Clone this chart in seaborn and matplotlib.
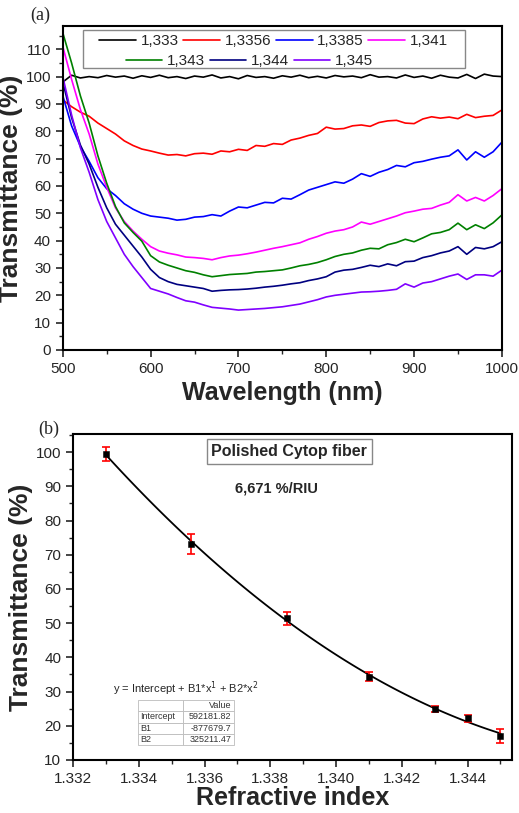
import numpy as np
import pandas as pd
import seaborn as sns
import matplotlib.pyplot as plt
from matplotlib.patches import Rectangle
from matplotlib.lines import Line2D

# ---- panel (a): transmittance spectra ----
wavelength = list(range(500, 1001, 10))

t_1333 = [98, 100.5, 99.5, 100, 99.6, 100.4, 99.8, 100.2, 99.4, 100.3, 99.7, 100.5, 99.6, 100, 99.3, 100.2,
          99.8, 100.6, 99.5, 100, 99.2, 100.4, 99.7, 100, 99.4, 100.3, 99.8, 100.5, 99.6, 100.1, 99.5, 100.4,
          99.9, 100.2, 99.6, 100.7, 99.8, 100, 99.5, 100.6, 99.7, 100.2, 99.4, 100.5, 99.8, 99.5, 100.8, 99.3,
          100.9, 100.2, 100]
t_13356 = [91.5, 89, 87, 85.5, 83, 81, 79, 76.5, 74.8, 73.5, 72.8, 72, 71.3, 71.5, 71, 71.8, 72, 71.6, 72.8,
           72.5, 73.4, 73, 74.8, 74.5, 75.5, 75.2, 76.8, 77.5, 78.5, 79.2, 81.5, 80.8, 81, 82, 82.3, 81.8, 83.2,
           83.8, 84, 83, 82.8, 84.5, 85.3, 84.8, 85.2, 84.6, 86.2, 85, 85.5, 85.8, 87.8]
t_13385 = [93, 82, 74.5, 69, 63, 59, 56.5, 53.5, 51.5, 50, 49, 48.6, 48.2, 47.5, 47.8, 48.6, 48.8, 49.5, 49,
           50.8, 52.3, 52, 53, 54, 53.8, 55.5, 55.2, 56.8, 58.5, 59.5, 60.5, 61.5, 61, 62.5, 64.5, 63.5, 65, 66,
           67.5, 67, 68.5, 69, 69.8, 70.5, 71, 73.2, 69.5, 72.5, 70.5, 72.5, 76]
t_1341 = [111, 99, 88, 79, 68, 59.5, 52, 47, 43.5, 40.5, 37.8, 36.2, 35.4, 34.8, 34, 33.8, 33.5, 33, 33.8, 34.4,
          34.7, 35.2, 35.8, 36.5, 37.2, 37.8, 38.5, 39.2, 40.5, 41.5, 42.7, 43.5, 44, 45, 46.8, 46, 47, 48, 49,
          50.2, 50.8, 51.5, 51.8, 53, 54, 56.8, 54.5, 55.8, 54.5, 56.5, 59]
t_1343 = [116, 105, 93, 83, 71, 61, 52.5, 46.5, 43, 39.8, 34.5, 32.2, 31, 30, 29, 28.4, 27.5, 26.8, 27.2, 27.6,
          27.8, 28, 28.5, 28.7, 29, 29.3, 30, 30.8, 31.3, 32, 33, 34.2, 35, 35.5, 36.5, 37.2, 37, 38.5, 39.3,
          40.5, 39.6, 41, 42.5, 43, 44, 46.4, 44, 45.8, 44.4, 46.5, 49.4]
t_1344 = [98, 85, 75, 68, 59.5, 52, 46, 42, 38, 34, 29.5, 26.5, 25, 24, 23.5, 23, 22.5, 21.5, 21.8, 22, 22.1,
          22.3, 22.6, 23, 23.3, 23.7, 24.2, 24.6, 25.4, 26, 26.8, 28.5, 29.2, 29.5, 30.2, 31, 30.5, 31.5, 30.8,
          32.3, 32.5, 33.8, 34.5, 35.5, 36.2, 37.8, 35, 37.5, 37, 37.8, 39.6]
t_1345 = [100, 86, 74, 65, 55, 47, 41, 35, 30.5, 26.5, 22.5, 21.5, 20.5, 19.2, 18, 17.5, 16.5, 15.6, 15.3, 15,
          14.6, 14.8, 15, 15.2, 15.5, 15.8, 16.3, 16.8, 17.6, 18.4, 19.4, 20, 20.4, 20.8, 21.2, 21.3, 21.5, 21.8,
          22.2, 24.2, 23, 24.5, 25, 26, 27, 27.8, 25.8, 27.5, 27.5, 27, 29.2]

labels_a = ["1,333", "1,3356", "1,3385", "1,341", "1,343", "1,344", "1,345"]
colors_a = ["#000000", "#ff0000", "#0000ff", "#ff00ff", "#008000", "#000080", "#8000ff"]

# ---- panel (b): transmittance vs refractive index ----
ri = [1.333, 1.3356, 1.3385, 1.341, 1.343, 1.344, 1.345]
trans = [99.5, 73.2, 51.4, 34.4, 25.0, 22.2, 17.05]
trans_err = [2.0, 3.0, 2.0, 1.4, 0.85, 1.0, 1.95]
fit_rows = [["", "Value"], ["Intercept", "592181.82"], ["B1", "-877679.7"], ["B2", "325211.47"]]

sns.set_style("ticks")
plt.rcParams['font.family'] = ['Liberation Sans', 'DejaVu Sans']
plt.rcParams['axes.linewidth'] = 1.5

fig = plt.figure(figsize=(5.19, 8.13), dpi=100)
ax1 = fig.add_axes([0.121, 0.5695, 0.846, 0.3985])
ax2 = fig.add_axes([0.1407, 0.0652, 0.8458, 0.401])

series = [t_1333, t_13356, t_13385, t_1341, t_1343, t_1344, t_1345]
df = pd.DataFrame({lab: s for lab, s in zip(labels_a, series)})
df["wl"] = wavelength
dfm = df.melt(id_vars="wl", var_name="RI", value_name="T")
sns.lineplot(data=dfm, x="wl", y="T", hue="RI", palette=colors_a, linewidth=1.2, legend=False, ax=ax1)

ax1.set_xlim(500, 1000)
ax1.set_ylim(0, 118.5)
ax1.set_xticks(range(500, 1001, 100))
ax1.set_xticks(range(550, 1000, 100), minor=True)
ax1.set_yticks(range(0, 111, 10))
ax1.set_yticks(range(5, 116, 10), minor=True)
ax1.set_xlabel("Wavelength (nm)", fontsize=18, fontweight="bold", labelpad=4)
ax1.set_ylabel("Transmittance (%)", fontsize=19, fontweight="bold", labelpad=2)

handles = [Line2D([], [], color=c, lw=1.2) for c in colors_a]
leg1 = ax1.legend(handles[:4], labels_a[:4], ncol=4, loc="center", bbox_to_anchor=(0.48, 0.953),
                  frameon=False, fontsize=11, handlelength=2.4, handletextpad=0.3, columnspacing=0.3,
                  borderpad=0, borderaxespad=0)
ax1.add_artist(leg1)
ax1.legend(handles[4:], labels_a[4:], ncol=3, loc="center", bbox_to_anchor=(0.425, 0.892),
           frameon=False, fontsize=11, handlelength=2.4, handletextpad=0.3, columnspacing=0.3,
           borderpad=0, borderaxespad=0)
ax1.add_patch(Rectangle((0.046, 0.870), 0.870, 0.118, transform=ax1.transAxes, fill=False,
                        edgecolor="#888888", lw=1.0))

# panel (b)
ax2.errorbar(ri, trans, yerr=trans_err, fmt="none", ecolor="red", elinewidth=1.2, capsize=3, capthick=1.2,
             zorder=3)
sns.scatterplot(x=ri, y=trans, marker="s", color="black", s=22, edgecolor="black", ax=ax2, zorder=4)
sns.regplot(x=ri, y=trans, order=2, ci=None, scatter=False, color="black", line_kws={"lw": 1.3}, ax=ax2)

ax2.set_xlim(1.332, 1.34535)
ax2.set_ylim(10, 105.3)
ax2.set_xticks(np.round(np.arange(1.332, 1.3441, 0.002), 3))
ax2.set_xticks(np.round(np.arange(1.333, 1.3451, 0.002), 3), minor=True)
ax2.set_xticklabels([f"{v:.3f}" for v in np.arange(1.332, 1.3441, 0.002)])
ax2.set_yticks(range(10, 101, 10))
ax2.set_yticks(range(15, 106, 10), minor=True)
ax2.set_xlabel("Refractive index", fontsize=18, fontweight="bold", labelpad=0)
ax2.set_ylabel("Transmittance (%)", fontsize=19, fontweight="bold", labelpad=2)

ax2.text(0.493, 0.946, "Polished Cytop fiber", transform=ax2.transAxes, ha="center", va="center",
         fontsize=11.5, fontweight="bold",
         bbox=dict(boxstyle="square,pad=0.3", fc="white", ec="#888888", lw=1.0))
ax2.text(0.464, 0.833, "6,671 %/RIU", transform=ax2.transAxes, ha="center", va="center",
         fontsize=10.5, fontweight="bold")
ax2.text(0.092, 0.219, "y = Intercept + B1*x$^1$ + B2*x$^2$", transform=ax2.transAxes, ha="left",
         va="center", fontsize=8)
tab = ax2.table(cellText=fit_rows, bbox=[0.148, 0.045, 0.219, 0.14], colWidths=[0.47, 0.53])
tab.auto_set_font_size(False)
for (r, c), cell in tab.get_celld().items():
    cell.set_edgecolor("#bbbbbb")
    cell.set_linewidth(0.6)
    cell.get_text().set_fontsize(6.5)
    cell.get_text().set_color("#333333")
    if c == 0:
        cell.get_text().set_ha("left")
        cell.PAD = 0.05
    else:
        cell.get_text().set_ha("right")
        cell.PAD = 0.05

for ax in (ax1, ax2):
    ax.tick_params(axis="both", which="major", direction="out", length=5, width=1.2, labelsize=11,
                   top=False, right=False)
    ax.tick_params(axis="both", which="minor", direction="out", length=3, width=1.0)
    for sp in ax.spines.values():
        sp.set_visible(True)
        sp.set_color("black")
        sp.set_linewidth(1.5)

fig.text(30 / 519, 1 - 15 / 813, "(a)", fontsize=13, family="Liberation Serif", va="center")
fig.text(38 / 519, 1 - 429 / 813, "(b)", fontsize=13, family="Liberation Serif", va="center")

fig.savefig("out.png", dpi=100)
